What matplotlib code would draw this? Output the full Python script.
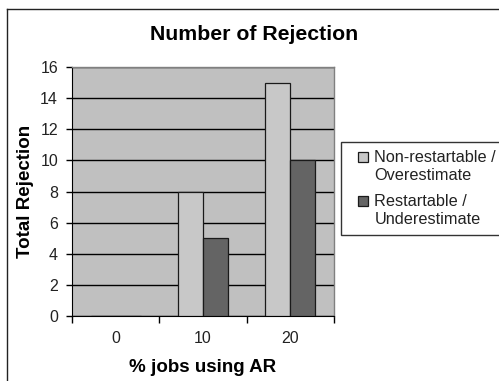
import matplotlib
matplotlib.use("Agg")

import matplotlib.pyplot as plt
from matplotlib.legend_handler import HandlerPatch
from matplotlib.lines import Line2D
from matplotlib.patches import Rectangle
from matplotlib.ticker import FixedLocator

categories = ["0", "10", "20"]
non_restartable = [0, 8, 15]
restartable = [0, 5, 10]
series_labels = ["Non-restartable /\nOverestimate", "Restartable /\nUnderestimate"]

plt.rcParams["font.family"] = ["Liberation Sans", "DejaVu Sans"]

W, H = 499, 381
fig = plt.figure(figsize=(W / 100, H / 100), dpi=100)
fig.patch.set_facecolor("white")

# outer chart frame (cut off at right and bottom)
fig.add_artist(Line2D([7 / W, 7 / W], [0, 1 - 9 / H], color="#222222", lw=1.0))
fig.add_artist(Line2D([7 / W, 1.0], [1 - 9 / H, 1 - 9 / H], color="#222222", lw=1.0))

ax = fig.add_axes([72 / W, 1 - 316 / H, (334 - 72) / W, (316 - 67) / H])
ax.set_facecolor("#c0c0c0")

x = range(len(categories))
w = 0.286
bars1 = ax.bar([i - w / 2 for i in x], non_restartable, width=w, color="#c8c8c8",
               edgecolor="#1a1a1a", linewidth=0.9, zorder=3)
bars2 = ax.bar([i + w / 2 for i in x], restartable, width=w, color="#646464",
               edgecolor="#1a1a1a", linewidth=0.9, zorder=3)

ax.set_xlim(-0.5, len(categories) - 0.5)
ax.set_ylim(0, 16)
ax.set_yticks(range(0, 17, 2))
ax.yaxis.grid(True, color="black", linewidth=1.0, zorder=1)
ax.set_axisbelow(True)

# category boundary ticks, labels centred between them
ax.xaxis.set_major_locator(FixedLocator([-0.5, 0.5, 1.5, 2.5]))
ax.xaxis.set_minor_locator(FixedLocator(list(x)))
ax.set_xticklabels([], minor=False)
ax.set_xticklabels(categories, minor=True)
ax.tick_params(axis="x", which="major", length=5, width=1, color="black", direction="out")
ax.tick_params(axis="x", which="minor", length=0, pad=11, labelsize=11.5, labelcolor="#222222")
ax.tick_params(axis="y", length=4, width=1, color="black", direction="out",
               pad=6, labelsize=11.5, labelcolor="#222222")

for side in ("top", "right"):
    ax.spines[side].set_color("#808080")
    ax.spines[side].set_linewidth(1.0)
ax.spines["left"].set_color("black")
ax.spines["bottom"].set_color("black")

fig.text(254 / W, 1 - 35 / H, "Number of Rejection", ha="center", va="center",
         fontsize=15.3, fontweight="bold")
fig.text(203 / W, 1 - 367 / H, "% jobs using AR", ha="center", va="center",
         fontsize=13.5, fontweight="bold")
fig.text(25 / W, 1 - 191 / H, "Total Rejection", ha="center", va="center",
         rotation=90, fontsize=13.5, fontweight="bold")


def top_square(legend, orig_handle, xdescent, ydescent, width, height, fontsize):
    # small square next to the first line of a two-line label
    s = 7.0
    return Rectangle((-xdescent + width - s, -ydescent + (height - s) / 2 + 7.0), s, s)


leg = ax.legend(handles=[bars1.patches[1], bars2.patches[1]], labels=series_labels,
                loc="lower left", bbox_to_anchor=(341 / W, 1 - 235 / H),
                bbox_transform=fig.transFigure, borderaxespad=0, fontsize=11.7,
                frameon=True, fancybox=False, handlelength=1.15, handleheight=0.6,
                handletextpad=0.4, labelspacing=0.68, borderpad=0.5,
                handler_map={Rectangle: HandlerPatch(patch_func=top_square)})
leg.get_frame().set_edgecolor("black")
leg.get_frame().set_linewidth(1.0)
for t in leg.get_texts():
    t.set_color("#222222")
    t.set_linespacing(1.25)

fig.savefig("out.png", dpi=100)
